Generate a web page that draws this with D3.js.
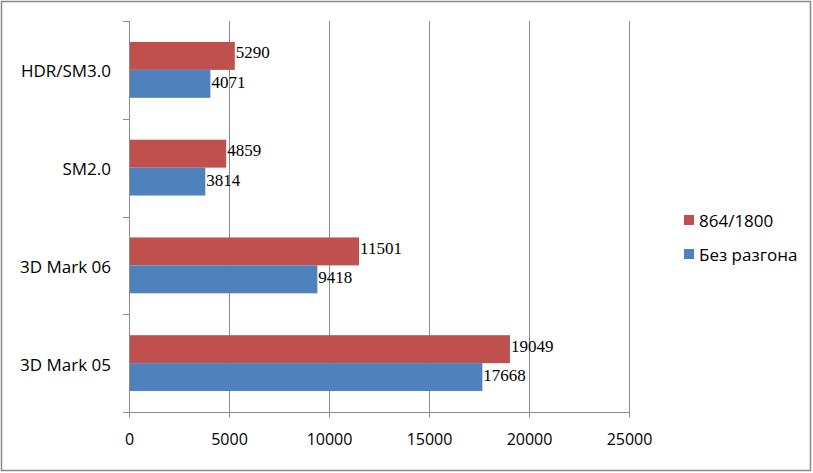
<!DOCTYPE html>
<html>
<head>
<meta charset="utf-8">
<script src="https://cdn.jsdelivr.net/npm/d3@7"></script>
<style>
    body { margin: 0; background: #fff; }
    svg { display: block; }
</style>
</head>
<body>
<svg id="chart" width="813" height="473"></svg>
<script>
// categories top to bottom
const categories = ['HDR/SM3.0', 'SM2.0', '3D Mark 06', '3D Mark 05']
const series_names = ['864/1800', 'Без разгона']
const oc_values = [5290, 4859, 11501, 19049]      // 864/1800
const stock_values = [4071, 3814, 9418, 17668]    // Без разгона
const x_ticks = [0, 5000, 10000, 15000, 20000, 25000]

const colors = ['#C0504D', '#4F81BD']
const grid_col = '#8c8c8c'

const svg = d3.select('#chart')

// outer frame
svg.append('rect')
    .attr('x', 1.5).attr('y', 1.5)
    .attr('width', 809).attr('height', 469)
    .attr('fill', '#fff')
    .attr('stroke', '#8a8a8a')
    .attr('stroke-width', 1.5)

const m = { left: 129, right: 629, top: 21, bottom: 412 }

const x = d3.scaleLinear().domain([0, 25000]).range([m.left, m.right])
const y = d3.scaleBand().domain(categories).range([m.top, m.bottom]).paddingInner(0).paddingOuter(0)
const inner = d3.scaleBand().domain(series_names).range([0, y.bandwidth()]).paddingOuter(0.75).paddingInner(0)

// vertical grid lines
svg.append('g').selectAll('line')
    .data(x_ticks.slice(1))
    .enter()
    .append('line')
    .attr('x1', d => x(d) + .5).attr('x2', d => x(d) + .5)
    .attr('y1', m.top).attr('y2', m.bottom + 5)
    .attr('stroke', grid_col)

// x axis
const xAxis = svg.append('g')
    .attr('transform', 'translate(0,' + (m.bottom + .5) + ')')
    .call(d3.axisBottom(x).tickValues(x_ticks).tickSize(5).tickPadding(16).tickFormat(d3.format('d')))
xAxis.select('.domain').attr('stroke', grid_col).attr('d', 'M' + (m.left - 6) + ',0H' + m.right)
xAxis.selectAll('.tick line').attr('stroke', grid_col)
xAxis.selectAll('.tick text')
    .attr('fill', '#000')
    .style('font-family', '"Open Sans", sans-serif')
    .style('font-size', '16px')

// y axis
const yTicks = y.domain().map(d => y(d)).concat([m.bottom])
const yAxis = svg.append('g')
yAxis.append('line')
    .attr('x1', m.left + .5).attr('x2', m.left + .5)
    .attr('y1', m.top).attr('y2', m.bottom + 5)
    .attr('stroke', grid_col)
yAxis.selectAll('line.tk')
    .data(yTicks)
    .enter()
    .append('line')
    .attr('class', 'tk')
    .attr('x1', m.left - 6).attr('x2', m.left)
    .attr('y1', d => Math.round(d) + .5).attr('y2', d => Math.round(d) + .5)
    .attr('stroke', grid_col)
yAxis.selectAll('text')
    .data(categories)
    .enter()
    .append('text')
    .attr('x', 111)
    .attr('y', d => y(d) + y.bandwidth() / 2 + 1)
    .attr('text-anchor', 'end')
    .attr('dominant-baseline', 'central')
    .style('font-family', '"Open Sans", sans-serif')
    .style('font-size', '17px')
    .text(d => d)

// bars
const rows = categories.map((c, i) => ({ cat: c, vals: [oc_values[i], stock_values[i]] }))
const groups = svg.append('g').selectAll('g')
    .data(rows)
    .enter()
    .append('g')
    .attr('transform', d => 'translate(0,' + y(d.cat) + ')')

const cells = groups.selectAll('g')
    .data(d => d.vals.map((v, j) => ({ name: series_names[j], v: v, j: j })))
    .enter()
    .append('g')

cells.append('rect')
    .attr('x', x(0) + 1)
    .attr('y', d => inner(d.name))
    .attr('width', d => x(d.v) - x(0) - 1)
    .attr('height', inner.bandwidth())
    .attr('fill', d => colors[d.j])

cells.append('text')
    .attr('x', d => x(d.v) + 1)
    .attr('y', d => inner(d.name) + inner.bandwidth() / 2 - (d.j == 0 ? 3 : 1.5))
    .attr('dominant-baseline', 'central')
    .style('font-family', '"Liberation Serif", serif')
    .style('font-size', '17px')
    .text(d => d.v)

// legend
const legend = svg.append('g').selectAll('g')
    .data(series_names)
    .enter()
    .append('g')
    .attr('transform', (d, i) => 'translate(684,' + (215 + i * 34) + ')')
legend.append('rect')
    .attr('width', 10).attr('height', 10)
    .attr('fill', (d, i) => colors[i])
legend.append('text')
    .attr('x', 15).attr('y', 5)
    .attr('dominant-baseline', 'central')
    .style('font-family', '"Open Sans", sans-serif')
    .style('font-size', '17px')
    .text(d => d)
</script>
</body>
</html>
